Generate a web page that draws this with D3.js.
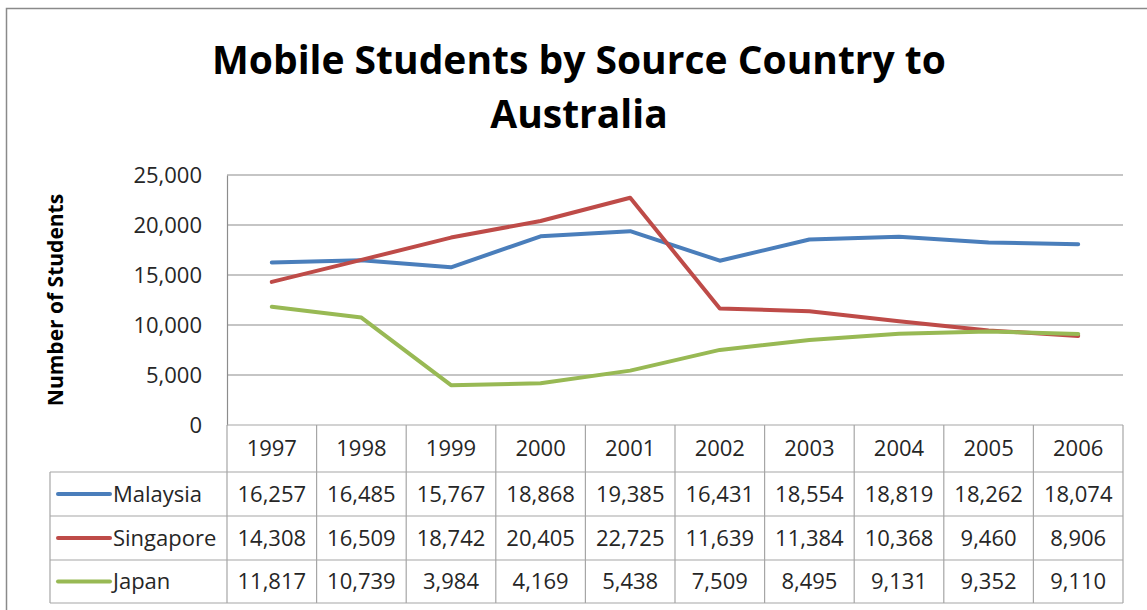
<!DOCTYPE html>
<html>
<head>
<meta charset="utf-8">
<script src="https://cdn.jsdelivr.net/npm/d3@7"></script>
<style>
  html, body { margin: 0; padding: 0; background: #fff; }
  svg { display: block; }
</style>
</head>
<body>
<svg id="chart" width="1147" height="610"></svg>
<script>
const years = ["1997","1998","1999","2000","2001","2002","2003","2004","2005","2006"];
const seriesNames = ["Malaysia","Singapore","Japan"];
const malaysia = [16257,16485,15767,18868,19385,16431,18554,18819,18262,18074];
const singapore = [14308,16509,18742,20405,22725,11639,11384,10368,9460,8906];
const japan = [11817,10739,3984,4169,5438,7509,8495,9131,9352,9110];
const yTicks = [0,5000,10000,15000,20000,25000];
const titleLines = ["Mobile Students by Source Country to","Australia"];
const yLabel = "Number of Students";

const seriesValues = [malaysia, singapore, japan];
const colors = ["#4A7EBB","#BE4B48","#98B954"];

const svg = d3.select("#chart");
const plotL = 227, plotR = 1123, plotT = 175, plotB = 425;
const legendL = 50;
const rowBounds = [425, 472, 516, 560, 603];
const font = "'Open Sans', sans-serif";
const textColor = "#262626";
const gridColor = "#8c8c8c";
const tableColor = "#a6a6a6";
const fs = 22;

// outer border
svg.append("path").attr("d", "M6.5,610 V8.5 H1147")
  .attr("fill","none").attr("stroke","#8a8a8a").attr("stroke-width",1.5);

// title
svg.append("g").selectAll("text").data(titleLines).join("text")
  .attr("x", 579).attr("y", (d,i) => 74 + i*54)
  .attr("text-anchor","middle")
  .attr("font-family", font).attr("font-weight","bold").attr("font-size", 39)
  .attr("fill","#000").text(d => d);

const x = d3.scaleBand().domain(years).range([plotL, plotR]);
const y = d3.scaleLinear().domain([0,25000]).range([plotB, plotT]);

// gridlines
svg.append("g").selectAll("line").data(yTicks.filter(t => t > 0)).join("line")
  .attr("x1", plotL).attr("x2", plotR)
  .attr("y1", d => y(d)).attr("y2", d => y(d))
  .attr("stroke", gridColor).attr("stroke-width", 1.2);

// y axis
const yAxis = svg.append("g").attr("transform", `translate(${plotL},0)`)
  .call(d3.axisLeft(y).tickValues(yTicks).tickFormat(d3.format(",")).tickSize(0).tickPadding(25));
yAxis.select(".domain").attr("stroke", gridColor).attr("stroke-width",1.2);
yAxis.selectAll("text").attr("font-family", font).attr("font-size", fs).attr("fill", textColor);

// y label
svg.append("text")
  .attr("transform", "translate(63,300) rotate(-90)")
  .attr("text-anchor","middle")
  .attr("font-family", font).attr("font-weight","bold").attr("font-size", 21)
  .attr("fill","#000").text(yLabel);

// table
const tbl = svg.append("g");
tbl.append("line").attr("x1", plotL).attr("x2", plotR).attr("y1", plotB).attr("y2", plotB)
  .attr("stroke", tableColor).attr("stroke-width", 1.2);
tbl.selectAll("line.h").data(rowBounds.slice(1)).join("line").attr("class","h")
  .attr("x1", legendL).attr("x2", plotR).attr("y1", d => d).attr("y2", d => d)
  .attr("stroke", tableColor).attr("stroke-width", 1.2);
const vxs = years.map(yr => x(yr)).concat([plotR]);
tbl.selectAll("line.v").data(vxs).join("line").attr("class","v")
  .attr("x1", d => d).attr("x2", d => d).attr("y1", plotB).attr("y2", rowBounds[4])
  .attr("stroke", tableColor).attr("stroke-width", 1.2);
tbl.append("line").attr("x1", legendL).attr("x2", legendL).attr("y1", rowBounds[1]).attr("y2", rowBounds[4])
  .attr("stroke", tableColor).attr("stroke-width", 1.2);

tbl.selectAll("text.yr").data(years).join("text").attr("class","yr")
  .attr("x", d => x(d) + x.bandwidth()/2).attr("y", (rowBounds[0]+rowBounds[1])/2)
  .attr("dy","0.35em").attr("text-anchor","middle")
  .attr("font-family", font).attr("font-size", fs).attr("fill", textColor).text(d => d);

const fmt = d3.format(",");
seriesNames.forEach((name, si) => {
  const cy = (rowBounds[si+1] + rowBounds[si+2]) / 2;
  tbl.append("line").attr("x1", 58).attr("x2", 110).attr("y1", cy).attr("y2", cy)
    .attr("stroke", colors[si]).attr("stroke-width", 4).attr("stroke-linecap","round");
  tbl.append("text").attr("x", 113).attr("y", cy).attr("dy","0.35em")
    .attr("font-family", font).attr("font-size", fs).attr("fill", textColor).text(name);
  tbl.selectAll("text.v"+si).data(seriesValues[si]).join("text").attr("class","v"+si)
    .attr("x", (d,i) => x(years[i]) + x.bandwidth()/2).attr("y", cy).attr("dy","0.35em")
    .attr("text-anchor","middle")
    .attr("font-family", font).attr("font-size", fs).attr("fill", textColor).text(d => fmt(d));
});

const line = d3.line().x((d,i) => x(years[i]) + x.bandwidth()/2).y(d => y(d));
svg.append("g").selectAll("path").data(seriesValues).join("path")
  .attr("d", d => line(d)).attr("fill","none")
  .attr("stroke", (d,i) => colors[i]).attr("stroke-width", 4)
  .attr("stroke-linejoin","round").attr("stroke-linecap","round");
</script>
</body>
</html>
